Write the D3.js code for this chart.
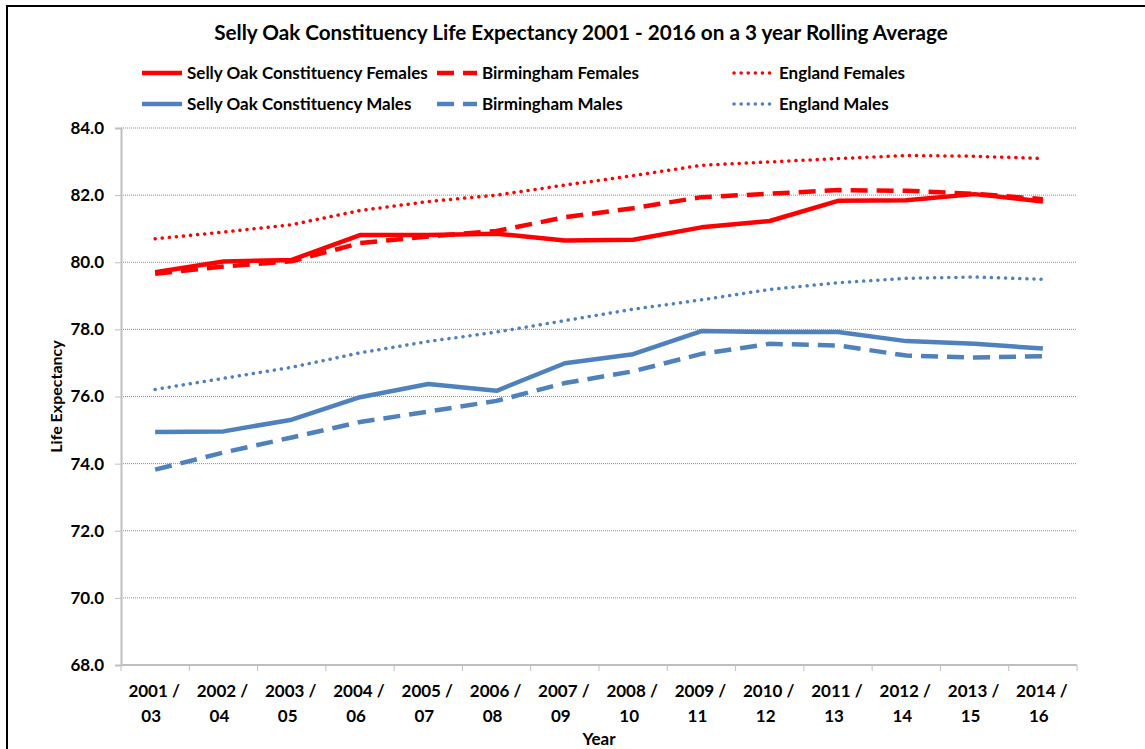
<!DOCTYPE html>
<html>
<head>
<meta charset="utf-8">
<script src="https://cdn.jsdelivr.net/npm/d3@7"></script>
<style>
  body { margin: 0; background: #fff; }
  text { font-family: Lato, "Open Sans", sans-serif; font-weight: bold; fill: #000; }
</style>
</head>
<body>
<svg id="chart"></svg>
<script>
// Category labels (two lines each)
const years = ['2001 /|03', '2002 /|04', '2003 /|05', '2004 /|06', '2005 /|07', '2006 /|08', '2007 /|09',
  '2008 /|10', '2009 /|11', '2010 /|12', '2011 /|13', '2012 /|14', '2013 /|15', '2014 /|16'];

// Series values
const sellyFemales = [79.7, 80.02, 80.07, 80.81, 80.81, 80.85, 80.65, 80.67, 81.04, 81.23, 81.83, 81.85, 82.03, 81.81];
const brumFemales = [79.66, 79.87, 80.03, 80.57, 80.77, 80.93, 81.34, 81.61, 81.94, 82.04, 82.15, 82.13, 82.04, 81.88];
const engFemales = [80.7, 80.9, 81.12, 81.54, 81.81, 82.0, 82.3, 82.58, 82.89, 82.99, 83.09, 83.18, 83.16, 83.09];
const sellyMales = [74.94, 74.96, 75.31, 75.98, 76.37, 76.17, 76.99, 77.26, 77.95, 77.92, 77.92, 77.65, 77.57, 77.43];
const brumMales = [73.82, 74.33, 74.78, 75.24, 75.55, 75.87, 76.4, 76.75, 77.27, 77.57, 77.52, 77.22, 77.16, 77.2];
const engMales = [76.21, 76.54, 76.87, 77.3, 77.64, 77.92, 78.26, 78.6, 78.88, 79.19, 79.39, 79.52, 79.56, 79.49];

const yTicks = [68, 70, 72, 74, 76, 78, 80, 82, 84];

const red = '#ff0000';
const blue = '#4f81bd';

const series = [
  { name: 'Selly Oak Constituency Females', values: sellyFemales, color: red, style: 'solid' },
  { name: 'Birmingham Females', values: brumFemales, color: red, style: 'dash' },
  { name: 'England Females', values: engFemales, color: red, style: 'dot' },
  { name: 'Selly Oak Constituency Males', values: sellyMales, color: blue, style: 'solid' },
  { name: 'Birmingham Males', values: brumMales, color: blue, style: 'dash' },
  { name: 'England Males', values: engMales, color: blue, style: 'dot' }
];

const width = 1145;
const height = 749;
const margin = { top: 128, right: 68, bottom: 84, left: 121 };

const svg = d3.select('#chart')
  .attr('width', width)
  .attr('height', height);

// Outer chart border
svg.append('rect')
  .attr('x', 7).attr('y', 6)
  .attr('width', width + 20).attr('height', height + 20)
  .attr('fill', '#fff')
  .attr('stroke', '#000')
  .attr('stroke-width', 2);

const x = d3.scaleBand()
  .domain(years)
  .range([margin.left, width - margin.right]);

const y = d3.scaleLinear()
  .domain([68, 84])
  .range([height - margin.bottom, margin.top]);

// Line styling helper
function applyStyle(sel, s) {
  sel.attr('stroke', s.color).attr('fill', 'none');
  if (s.style === 'solid') {
    sel.attr('stroke-width', 4.5).attr('stroke-linejoin', 'round');
  } else if (s.style === 'dash') {
    sel.attr('stroke-width', 4.5).attr('stroke-dasharray', '17,9');
  } else {
    sel.attr('stroke-width', 3.5).attr('stroke-dasharray', '0.1,7').attr('stroke-linecap', 'round');
  }
}

// Gridlines
svg.append('g')
  .selectAll('line')
  .data(yTicks.filter(d => d > 68))
  .enter()
  .append('line')
  .attr('x1', margin.left)
  .attr('x2', width - margin.right)
  .attr('y1', d => y(d))
  .attr('y2', d => y(d))
  .attr('stroke', '#8c8c8c')
  .attr('stroke-width', 1)
  .attr('stroke-dasharray', '1,1');

// Y axis
const yAxis = svg.append('g')
  .attr('transform', `translate(${margin.left},0)`)
  .call(d3.axisLeft(y).tickValues(yTicks).tickFormat(d3.format('.1f')).tickSize(6).tickPadding(11));
yAxis.select('.domain').attr('stroke', '#bfbfbf').attr('stroke-width', 2);
yAxis.selectAll('.tick line').attr('stroke', '#bfbfbf');
yAxis.selectAll('text').style('font-size', '17px').style('font-family', 'Lato, sans-serif').style('font-weight', 'bold');

// X axis with ticks at category boundaries
const xAxisG = svg.append('g')
  .attr('transform', `translate(0,${height - margin.bottom})`);
xAxisG.append('line')
  .attr('x1', margin.left).attr('x2', width - margin.right)
  .attr('stroke', '#bfbfbf').attr('stroke-width', 2);
xAxisG.selectAll('.xtick')
  .data(years.concat(['end']))
  .enter()
  .append('line')
  .attr('x1', (d, i) => i < years.length ? x(d) : x.range()[1])
  .attr('x2', (d, i) => i < years.length ? x(d) : x.range()[1])
  .attr('y1', 0).attr('y2', 6)
  .attr('stroke', '#bfbfbf');

const xLabels = xAxisG.selectAll('.xlabel')
  .data(years)
  .enter()
  .append('text')
  .attr('text-anchor', 'middle')
  .style('font-size', '17px');
xLabels.append('tspan')
  .attr('x', d => x(d) + x.bandwidth() / 2 - 1)
  .attr('y', 32)
  .text(d => d.split('|')[0]);
xLabels.append('tspan')
  .attr('x', d => x(d) + x.bandwidth() / 2 - 4)
  .attr('y', 57)
  .text(d => d.split('|')[1]);

// Axis titles
svg.append('text')
  .attr('x', (margin.left + width - margin.right) / 2)
  .attr('y', 745)
  .attr('text-anchor', 'middle')
  .style('font-size', '17px')
  .text('Year');

svg.append('text')
  .attr('transform', `translate(62,${(margin.top + height - margin.bottom) / 2}) rotate(-90)`)
  .attr('text-anchor', 'middle')
  .style('font-size', '16px')
  .text('Life Expectancy');

// Title
svg.append('text')
  .attr('x', 581)
  .attr('y', 40)
  .attr('text-anchor', 'middle')
  .style('font-size', '20.7px')
  .text('Selly Oak Constituency Life Expectancy 2001 - 2016 on a 3 year Rolling Average');

// Lines
const line = d3.line()
  .x((d, i) => x(years[i]) + x.bandwidth() / 2)
  .y(d => y(d));

series.forEach(s => {
  svg.append('path')
    .datum(s.values)
    .attr('d', line)
    .call(applyStyle, s);
});

// Legend
const legendX = [142, 437, 734];
const legendY = [73, 104];
series.forEach((s, i) => {
  const lx = legendX[i % 3];
  const ly = legendY[Math.floor(i / 3)];
  const g = svg.append('g');
  g.append('line')
    .attr('x1', lx).attr('x2', lx + 40)
    .attr('y1', ly).attr('y2', ly)
    .call(applyStyle, s);
  g.append('text')
    .attr('x', lx + 45)
    .attr('y', ly + 6)
    .style('font-size', '17px')
    .text(s.name);
});
</script>
</body>
</html>
